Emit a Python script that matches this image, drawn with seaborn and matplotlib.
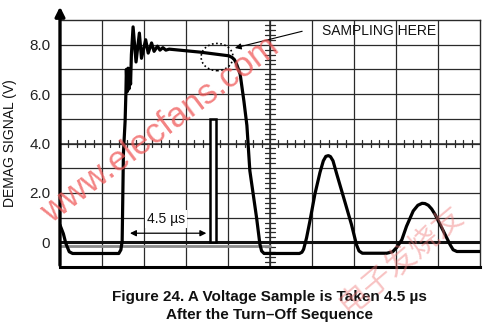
import matplotlib
matplotlib.use("Agg")
import matplotlib.pyplot as plt
from matplotlib.patches import Ellipse
import seaborn as sns
import pandas as pd
import numpy as np

# ---- data ----
wave_x = [0.00, 0.08, 0.14, 0.22, 0.30, 1.40, 1.45, 1.48, 1.51, 1.55, 1.57, 1.58, 1.60, 1.62,
          1.64, 1.66, 1.68, 1.70, 1.74, 1.81, 1.89, 1.94, 2.04, 2.10, 2.18, 2.24, 2.32, 2.38,
          2.45, 2.52, 2.60, 3.33, 4.02, 4.10, 4.15, 4.19, 4.29, 4.38, 4.45, 4.52, 4.68, 4.76,
          4.80, 4.86, 5.70, 5.76, 5.80, 5.87, 5.95, 6.07, 6.19, 6.27, 6.33, 6.39, 6.44, 6.50,
          6.59, 6.79, 6.94, 7.06, 7.12, 7.20, 7.78, 7.92, 8.02, 8.14, 8.25, 8.41, 8.52, 8.62,
          8.69, 8.77, 8.85, 8.93, 9.13, 9.29, 9.36, 9.45, 10.0]
wave_y = [0.70, 0.35, -0.05, -0.38, -0.45, -0.45, -0.30, 0.05, 3.60, 4.90, 6.10, 7.00, 6.10, 7.05,
          6.20, 7.00, 6.40, 7.60, 8.72, 7.30, 8.47, 7.45, 8.20, 7.66, 8.07, 7.73, 7.94, 7.78,
          7.88, 7.78, 7.82, 7.70, 7.55, 7.48, 7.40, 7.28, 6.80, 5.70, 4.73, 2.90, 1.00, -0.08,
          -0.35, -0.45, -0.45, -0.40, -0.28, 0.18, 0.86, 1.96, 2.83, 3.30, 3.48, 3.51, 3.47, 3.30,
          2.76, 1.60, 0.72, -0.10, -0.35, -0.44, -0.44, -0.38, -0.20, 0.11, 0.65, 1.27, 1.50, 1.58,
          1.57, 1.50, 1.35, 1.13, 0.45, -0.10, -0.30, -0.37, -0.37]

pulse_x = [3.64]
pulse_height = [5.0]

ytick_vals = [0, 2, 4, 6, 8]
ytick_labels = ["0", "2.0", "4.0", "6.0", "8.0"]

y_label = "DEMAG SIGNAL (V)"
title_lines = ["Figure 24. A Voltage Sample is Taken 4.5 \u00b5s", "After the Turn\u2013Off Sequence"]
interval_label = "4.5 \u00b5s"
interval_x = [1.60, 3.55]
interval_y = 0.37
sampling_label = "SAMPLING HERE"
sampling_point = [4.10, 7.84]
circle_center = [3.74, 7.5]

# ---- style ----
sns.set_style("white")
plt.rcParams['font.family'] = ['Liberation Sans', 'DejaVu Sans']

fig = plt.figure(figsize=(5.0, 3.33), dpi=100)
ax = fig.add_axes([0.12, 0.198, 0.84, 0.742])
ax.set_xlim(0, 10)
ax.set_ylim(-1, 9)

grid_c = "#2a2a2a"
for gx in range(1, 10):
    ax.axvline(gx, color=grid_c, lw=0.9, zorder=1)
for gy in range(0, 9):
    ax.axhline(gy, color=grid_c, lw=0.9, zorder=1)

# central graticule axes with minor ticks
ax.axhline(4, color=grid_c, lw=1.1, zorder=1)
ax.axvline(5, color=grid_c, lw=1.1, zorder=1)
for mx in np.arange(0.2, 10, 0.2):
    if abs(mx - round(mx)) > 0.05:
        ax.plot([mx, mx], [3.84, 4.16], color=grid_c, lw=0.9, zorder=1)
for my in np.arange(-0.8, 9, 0.2):
    if abs(my - round(my)) > 0.05:
        ax.plot([4.89, 5.11], [my, my], color=grid_c, lw=0.9, zorder=1)

# zero reference line
ax.plot([0, 5.0], [-0.13, -0.13], color="#8a8a8a", lw=2.0, zorder=2)
ax.axhline(0, color="#111111", lw=2.2, zorder=2)

# sampling pulse
ax.bar(pulse_x, pulse_height, width=0.14, bottom=0, color="white",
       edgecolor="black", linewidth=1.8, zorder=3)

# waveform
df = pd.DataFrame({"t": wave_x, "v": wave_y})
sns.lineplot(data=df, x="t", y="v", sort=False, color="black", lw=2.3, ax=ax, zorder=4,
             estimator=None)
ax.lines[-1].set_solid_joinstyle("round")

# dotted circle and sampling annotation
ax.add_patch(Ellipse(circle_center, 0.76, 1.1, fill=False, ls=(0, (1, 1.5)), lw=1.2,
                     color="black", zorder=5))
ax.annotate("", xy=sampling_point, xytext=(5.83, 8.57),
            arrowprops=dict(arrowstyle="-|>", color="black", lw=0.8, mutation_scale=9),
            zorder=6)
ax.text(7.6, 8.57, sampling_label, ha="center", va="center", fontsize=10, color="#111111",
        zorder=6)

# 4.5 us interval
ax.annotate("", xy=(interval_x[0], interval_y), xytext=(interval_x[1], interval_y),
            arrowprops=dict(arrowstyle="<|-|>", color="black", lw=0.9, mutation_scale=9),
            zorder=6)
ax.text(2.52, 0.95, interval_label, ha="center", va="center", fontsize=10, color="#111111",
        zorder=6, bbox=dict(facecolor="white", edgecolor="none", pad=1.5))

# frame
for s in ["top", "right"]:
    ax.spines[s].set_color(grid_c)
    ax.spines[s].set_linewidth(1.0)
ax.spines["bottom"].set_color("black")
ax.spines["bottom"].set_linewidth(2.2)
ax.spines["left"].set_visible(False)
ax.annotate("", xy=(0, 1.065), xycoords="axes fraction", xytext=(0, -0.004),
            textcoords="axes fraction",
            arrowprops=dict(arrowstyle="-|>", color="black", lw=2.4, mutation_scale=14),
            annotation_clip=False)

ax.set_xticks([])
ax.set_yticks(ytick_vals)
ax.set_yticklabels(ytick_labels, fontsize=11, color="#222222")
ax.tick_params(axis="y", length=0, pad=7)
ax.set_xlabel("")
ax.set_ylabel(y_label, fontsize=10, color="#111111", labelpad=9)

fig.text(0.538, 0.108, title_lines[0], ha="center", va="center", fontsize=11,
         fontweight="bold", color="#111111")
fig.text(0.538, 0.054, title_lines[1], ha="center", va="center", fontsize=11,
         fontweight="bold", color="#111111")

# watermarks
fig.text(0.32, 0.61, "www.elecfans.com", ha="center", va="center", fontsize=25,
         rotation=37, color="#f05a5a", alpha=0.75)
fig.text(0.80, 0.22, "电子发烧友", ha="center", va="center", fontsize=22, rotation=40,
         color="#f07a7a", alpha=0.45, family=["Noto Sans CJK SC", "DejaVu Sans"])

fig.savefig("out.png", dpi=100)
